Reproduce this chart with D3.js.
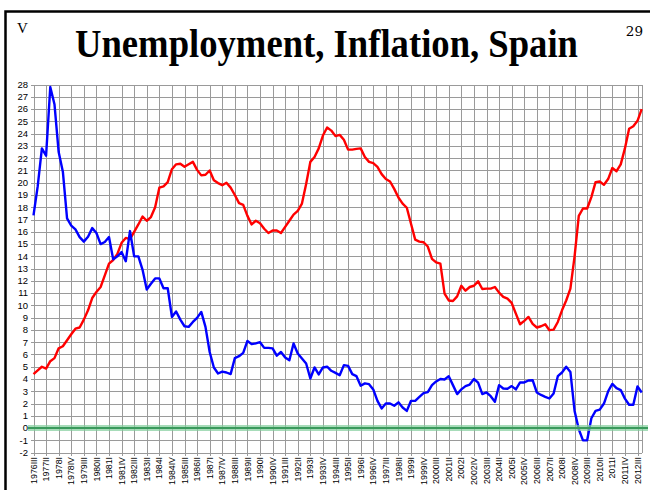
<!DOCTYPE html>
<html><head><meta charset="utf-8">
<script src="https://cdn.jsdelivr.net/npm/d3@7"></script>
<style>
html,body{margin:0;padding:0;background:#fff;}
svg{display:block;}
</style></head><body>
<svg id="c" width="650" height="490"></svg>
<script>
// ---- data ----
const romans = ["I", "II", "III", "IV"];
const quarters = [];
for (let yr = 1976; yr <= 2012; yr++) {
  for (let q = 0; q < 4; q++) {
    if (yr === 1976 && q < 2) continue;
    quarters.push(yr + romans[q]);
  }
}
const tickLabels = ["1976III","1977II","1978I","1978IV","1979III","1980II","1981I","1981IV","1982III","1983II",
  "1984I","1984IV","1985III","1986II","1987I","1987IV","1988III","1989II","1990I","1990IV",
  "1991III","1992II","1993I","1993IV","1994III","1995II","1996I","1996IV","1997III","1998II",
  "1999I","1999IV","2000III","2001II","2002I","2002IV","2003III","2004II","2005I","2005IV",
  "2006III","2007II","2008I","2008IV","2009III","2010II","2011I","2011IV","2012III"];
const yTicks = [-2,-1,0,1,2,3,4,5,6,7,8,9,10,11,12,13,14,15,16,17,18,19,20,21,22,23,24,25,26,27,28];

const unemployment = [
  4.4,4.7,5.0,4.85,5.45,5.7,6.5,6.67,7.16,7.65,
  8.1,8.2,8.84,9.6,10.6,11.1,11.5,12.45,13.4,13.7,
  14.2,15.1,15.5,15.4,16.0,16.6,17.25,16.9,17.2,18.0,
  19.6,19.7,20.05,21.1,21.5,21.55,21.3,21.5,21.7,21.05,
  20.6,20.65,21.0,20.2,19.97,19.8,20.0,19.6,19.0,18.34,
  18.2,17.3,16.6,16.9,16.7,16.25,15.9,16.1,16.1,15.9,
  16.4,16.9,17.4,17.7,18.3,19.9,21.7,22.1,22.8,23.85,
  24.5,24.25,23.8,23.9,23.5,22.7,22.7,22.76,22.8,22.1,
  21.7,21.6,21.3,20.7,20.3,20.1,19.5,18.8,18.3,17.96,
  16.66,15.36,15.2,15.15,14.8,13.8,13.5,13.4,10.96,10.4,
  10.36,10.74,11.6,11.2,11.5,11.6,11.96,11.34,11.37,11.37,
  11.5,11.04,10.7,10.55,10.2,9.33,8.46,8.74,9.06,8.5,
  8.2,8.3,8.46,7.98,8.03,8.65,9.6,10.4,11.37,14.0,
  17.3,17.9,17.9,18.83,20.05,20.1,19.83,20.3,21.2,20.94,
  21.5,22.8,24.4,24.6,25.05,26.0];

const inflation = [
  17.34,19.7,22.8,22.2,27.8,26.4,22.5,20.9,17.1,16.5,
  16.2,15.57,15.2,15.6,16.3,15.9,15.0,15.17,15.57,13.75,
  14.0,14.35,13.6,16.06,14.0,14.0,12.9,11.3,11.77,12.2,
  12.2,11.4,11.4,9.06,9.5,8.84,8.3,8.25,8.65,8.98,
  9.47,8.25,6.2,4.94,4.45,4.6,4.53,4.4,5.7,5.86,
  6.13,7.1,6.84,6.9,7.0,6.54,6.54,6.5,5.9,6.2,
  5.75,5.53,6.9,6.08,5.67,5.26,4.04,4.94,4.37,4.94,
  5.0,4.67,4.5,4.31,5.13,5.07,4.4,4.23,3.45,3.64,
  3.58,3.15,2.22,1.6,2.0,2.0,1.82,2.1,1.68,1.4,
  2.22,2.22,2.55,2.85,2.93,3.5,3.8,4.0,3.96,4.23,
  3.5,2.77,3.15,3.42,3.55,4.0,3.7,2.77,2.9,2.6,
  2.14,3.5,3.23,3.2,3.42,3.15,3.72,3.72,3.88,3.9,
  2.9,2.7,2.55,2.41,2.82,4.23,4.53,5.0,4.58,1.4,
  -0.1,-1.0,-1.0,0.8,1.4,1.5,2.0,3.0,3.6,3.25,
  3.1,2.4,1.9,1.9,3.4,2.9];

// ---- drawing ----
const svg = d3.select('#c');
const x = d3.scalePoint().domain(quarters).range([33.5, 641.7]);
const y = d3.scaleLinear().domain([-2, 28]).range([452.6, 84.6]);
const left = x(quarters[0]), right = x(quarters[quarters.length - 1]);

const defs = svg.append('defs');
const f = defs.append('filter').attr('id','glow').attr('x','-5%').attr('y','-400%').attr('width','110%').attr('height','900%');
f.append('feGaussianBlur').attr('stdDeviation', 1.2);

// frame
svg.append('path').attr('d', 'M5.5,495 V11.5 H660').attr('fill', 'none')
  .attr('stroke', '#000').attr('stroke-width', 2.5);

// title & corner marks
svg.append('text').attr('x', 326.5).attr('y', 57).attr('text-anchor', 'middle')
  .attr('font-family', '"Liberation Serif", "Times New Roman", serif').attr('font-weight', 'bold')
  .attr('font-size', 39).attr('textLength', 503).attr('lengthAdjust', 'spacingAndGlyphs')
  .attr('fill', '#000').text('Unemployment, Inflation, Spain');
svg.append('text').attr('x', 17).attr('y', 33).attr('font-family', '"Liberation Serif", serif')
  .attr('font-size', 15).attr('fill', '#000').text('V');
svg.append('text').attr('x', 643).attr('y', 36).attr('text-anchor', 'end')
  .attr('font-family', '"DejaVu Serif", serif').attr('font-size', 13.5).attr('fill', '#000').text('29');

const grid = svg.append('g').attr('stroke', '#9a9a9a').attr('stroke-width', 1).attr('shape-rendering', 'crispEdges');
// horizontal gridlines + left ticks
grid.selectAll('line.h').data(yTicks).join('line').attr('class', 'h')
  .attr('x1', left - 3).attr('x2', right).attr('y1', d => Math.round(y(d)) + 0.5).attr('y2', d => Math.round(y(d)) + 0.5);
// vertical gridlines at labelled quarters + bottom ticks
grid.selectAll('line.v').data(tickLabels).join('line').attr('class', 'v')
  .attr('x1', d => Math.round(x(d)) + 0.5).attr('x2', d => Math.round(x(d)) + 0.5)
  .attr('y1', y(28)).attr('y2', y(-2) + 3);
// right border of plot
grid.append('line').attr('x1', Math.round(right) + 0.5).attr('x2', Math.round(right) + 0.5)
  .attr('y1', y(28)).attr('y2', y(-2));

// y axis labels
svg.append('g').selectAll('text').data(yTicks).join('text')
  .attr('x', 28).attr('y', d => y(d)).attr('dy', '0.35em').attr('text-anchor', 'end')
  .attr('font-family', '"Liberation Sans", Arial, sans-serif').attr('font-size', 9.5).attr('fill', '#000')
  .text(d => d);

// x axis labels
svg.append('g').selectAll('text').data(tickLabels).join('text')
  .attr('transform', d => `translate(${x(d)},457) rotate(-90)`).attr('dy', '0.35em').attr('text-anchor', 'end')
  .attr('font-family', '"Liberation Sans", Arial, sans-serif').attr('font-size', 8.8).attr('fill', '#000')
  .text(d => d);

// series
const line = d3.line().x((d, i) => x(quarters[i])).y(d => y(d));
svg.append('path').datum(unemployment).attr('d', line).attr('fill', 'none')
  .attr('stroke', '#ff0000').attr('stroke-width', 2.4).attr('stroke-linejoin', 'round');
svg.append('path').datum(inflation).attr('d', line).attr('fill', 'none')
  .attr('stroke', '#0000ff').attr('stroke-width', 2.4).attr('stroke-linejoin', 'round');

// green zero axis with glow
const y0 = y(0);
svg.append('line').attr('x1', 28).attr('x2', 648).attr('y1', y0 + 3).attr('y2', y0 + 3)
  .attr('stroke', 'rgba(200,170,195,0.45)').attr('stroke-width', 4).attr('filter', 'url(#glow)');
svg.append('line').attr('x1', 28).attr('x2', 648).attr('y1', y0).attr('y2', y0)
  .attr('stroke', 'rgba(130,205,155,0.7)').attr('stroke-width', 6);
svg.append('line').attr('x1', 28).attr('x2', 648).attr('y1', y0).attr('y2', y0)
  .attr('stroke', '#3a9a5c').attr('stroke-width', 2);
</script>
</body></html>
